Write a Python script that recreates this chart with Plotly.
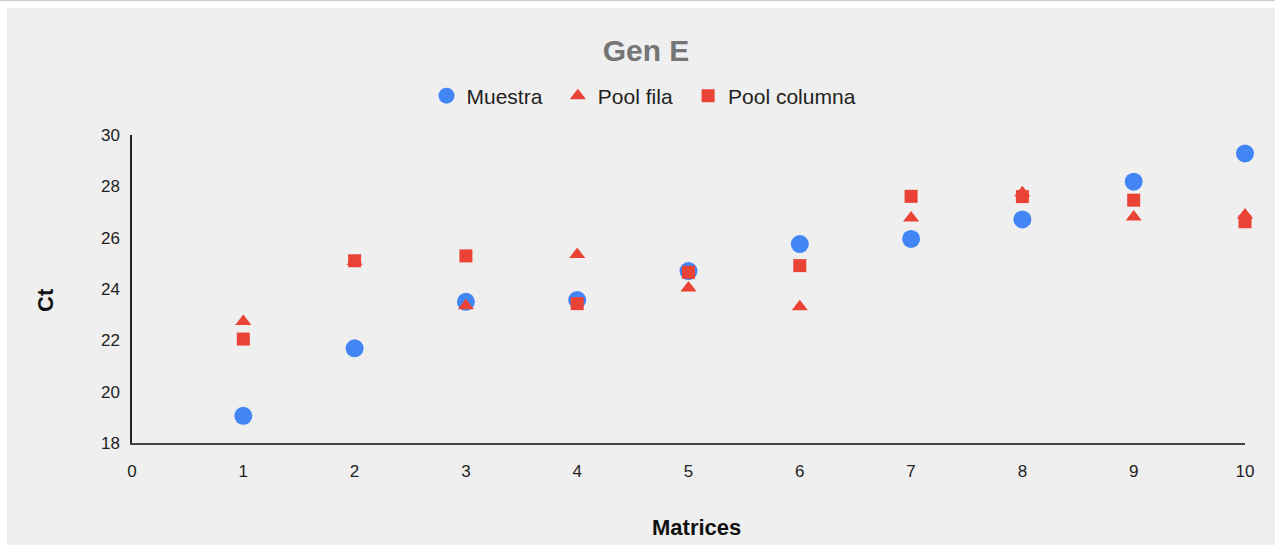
import plotly.graph_objects as go

matrices = [1, 2, 3, 4, 5, 6, 7, 8, 9, 10]
muestra = [19.06, 21.69, 23.50, 23.57, 24.70, 25.75, 25.95, 26.71, 28.18, 29.28]
pool_fila = [22.73, 25.07, 23.35, 25.34, 24.04, 23.31, 26.77, 27.75, 26.81, 26.88]
pool_columna = [22.05, 25.10, 25.29, 23.43, 24.65, 24.91, 27.61, 27.60, 27.46, 26.62]

series_names = ["Muestra", "Pool fila", "Pool columna"]
x_ticks = list(range(0, 11))
y_ticks = [18, 20, 22, 24, 26, 28, 30]

BLUE = "#4285F4"
RED = "#EA4335"
FONT = "Arial, Liberation Sans, sans-serif"
PAD = "\u2002"

fig = go.Figure()
fig.add_trace(go.Scatter(x=matrices, y=muestra, mode="markers", name=series_names[0] + PAD,
                         cliponaxis=False,
                         marker=dict(symbol="circle", size=18, color=BLUE)))
fig.add_trace(go.Scatter(x=matrices, y=pool_fila, mode="markers", name=series_names[1] + PAD,
                         cliponaxis=False,
                         marker=dict(symbol="triangle-up", size=14, color=RED)))
fig.add_trace(go.Scatter(x=matrices, y=pool_columna, mode="markers", name=series_names[2],
                         cliponaxis=False,
                         marker=dict(symbol="square", size=13, color=RED)))

L, R, T, B = 132, 30, 135, 102
W, H = 1275, 545
pw, ph = W - L - R, H - T - B

def px(xpix):
    return (xpix - L) / pw

def py(ypix):
    return (H - B - ypix) / ph

fig.update_layout(
    width=W, height=H,
    margin=dict(l=L, r=R, t=T, b=B),
    paper_bgcolor="white",
    plot_bgcolor="rgba(0,0,0,0)",
    font=dict(family=FONT, color="#222222"),
    title=dict(text="<b>Gen E</b>", font=dict(size=30, color="#757575", family=FONT),
               x=646 / W, xref="container", xanchor="center",
               y=1 - 50 / H, yref="container", yanchor="middle"),
    legend=dict(orientation="h", x=px(644), xanchor="center", y=py(96), yanchor="middle",
                font=dict(size=21, color="#222222"), bgcolor="rgba(0,0,0,0)"),
    showlegend=True,
    xaxis=dict(range=[0, 10], tickvals=x_ticks, ticktext=[str(v) for v in x_ticks],
               showgrid=False, zeroline=False, showline=True, linecolor="#444444", linewidth=2,
               ticks="", tickfont=dict(size=17, color="#222222"), ticklabelstandoff=12),
    yaxis=dict(range=[18, 30], tickvals=y_ticks, ticktext=[str(v) for v in y_ticks],
               showgrid=False, zeroline=False, showline=True, linecolor="#222222", linewidth=1.5,
               ticks="", tickfont=dict(size=17, color="#222222"), ticklabelstandoff=7),
    shapes=[
        dict(type="rect", xref="paper", yref="paper", layer="below",
             x0=px(7), x1=px(W + 5), y0=py(H + 5), y1=py(8),
             fillcolor="#efefef", line=dict(width=0)),
        dict(type="line", xref="paper", yref="paper", layer="below",
             x0=px(-5), x1=px(W + 5), y0=py(0.5), y1=py(0.5),
             line=dict(color="#d0d0d0", width=1.5)),
    ],
    annotations=[
        dict(text="<b>Ct</b>", xref="paper", yref="paper", x=px(45), y=py(300),
             textangle=-90, showarrow=False, font=dict(size=22, color="#111111"),
             xanchor="center", yanchor="middle"),
        dict(text="<b>Matrices</b>", xref="paper", yref="paper", x=px(696), y=py(527),
             showarrow=False, font=dict(size=22, color="#111111"),
             xanchor="center", yanchor="middle"),
    ],
)

fig.write_html(
    "out.html",
    config={"displayModeBar": False},
    post_script="document.body.style.margin='0';document.body.style.overflow='hidden';"
                "document.documentElement.style.overflow='hidden';",
)
